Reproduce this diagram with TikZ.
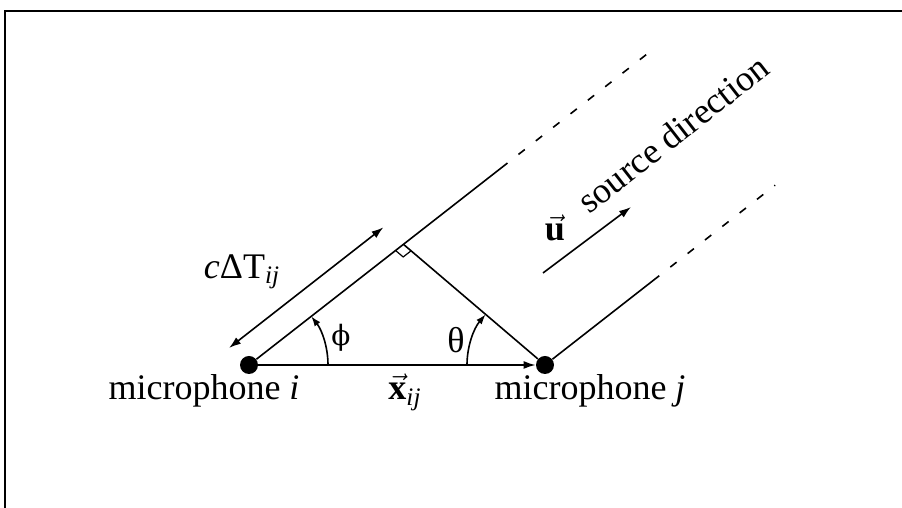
\documentclass[tikz,border=0pt]{standalone}
\usepackage{fontspec}
\setmainfont{Liberation Serif}
\newfontfamily\greekfont{DejaVu Serif}
\usetikzlibrary{arrows.meta, calc}

\begin{document}
\begin{tikzpicture}[
    x=0.5pt, y=0.5pt,
    font=\fontsize{18}{21}\selectfont,
    mic/.style={circle, fill=black, inner sep=0pt, minimum size=9pt},
    ray/.style={line width=0.8pt},
    farray/.style={line width=0.8pt, dash pattern=on 4pt off 7pt, dash phase=4pt},
    arrow/.style={-{Latex[length=6pt, width=4pt]}, line width=0.8pt},
    dimarrow/.style={{Latex[length=6pt, width=4pt]}-{Latex[length=6pt, width=4pt]}, line width=0.8pt},
    arcarrow/.style={-{Latex[length=5pt, width=3.5pt]}, line width=0.8pt}
]

% Frame
\useasboundingbox (0,0) rectangle (902,508);
\draw[line width=1.4pt] (5,0) -- (5,497) -- (902,497);

% Microphones
\node[mic] (mici) at (249,143) {};
\node[mic] (micj) at (545,143) {};

% Points on the rays
\coordinate (foot) at ($(mici.center)+(38:196)$);
\coordinate (iend) at ($(mici.center)+(38:328)$);
\coordinate (ifar) at ($(mici.center)+(38:505)$);
\coordinate (jend) at ($(micj.center)+(38:145)$);
\coordinate (jfar) at ($(micj.center)+(38:292)$);

% Rays towards the source
\draw[ray] (mici) -- (iend);
\draw[farray] (iend) -- (ifar);
\draw[ray] (micj) -- (jend);
\draw[farray] (jend) -- (jfar);
\draw[ray] (foot) -- (micj);

% Right angle
\coordinate (ra) at ($(foot)!5pt!(mici.center)$);
\coordinate (rb) at ($(foot)!5pt!(micj.center)$);
\draw[line width=0.6pt] (ra) -- ($(ra)+(rb)-(foot)$) -- (rb);

% Baseline
\draw[arrow] (mici) -- (micj);

% Path difference
\coordinate (da) at ($(mici.center)+(-20,17)$);
\coordinate (db) at ($(foot)+(-20,17)$);
\draw[dimarrow] (da) -- (db);

% Angles
\draw[arcarrow] ($(mici.center)+(39.5pt,0)$) arc[start angle=0, end angle=38, radius=39.5pt];
\draw[arcarrow] ($(micj.center)+(-39pt,0)$) arc[start angle=180, end angle=139.6, radius=39pt];

% Source direction
\coordinate (s0) at (543,235);
\coordinate (s1) at (631,301);
\draw[arrow] (s0) -- (s1);

% Labels
\node (phi) at (341,170) {\greekfont\fontsize{14}{16}\selectfont ϕ};
\node (theta) at (456,168) {θ};
\node (dt) at (242,236) {\textit{c}ΔT\textsubscript{\textit{ij}}};
\node[anchor=base] (xij) at (405,108) {$\vec{\textbf{x}}$\textsubscript{\textit{ij}}};
\node[anchor=base] (labi) at (204,108) {microphone \textit{i}};
\node[anchor=base] (labj) at (590,108) {microphone \textit{j}};
\node (u) at (555,280) {$\vec{\textbf{u}}$};
\node[rotate=38] (src) at (673,374) {source direction};

\end{tikzpicture}
\end{document}
